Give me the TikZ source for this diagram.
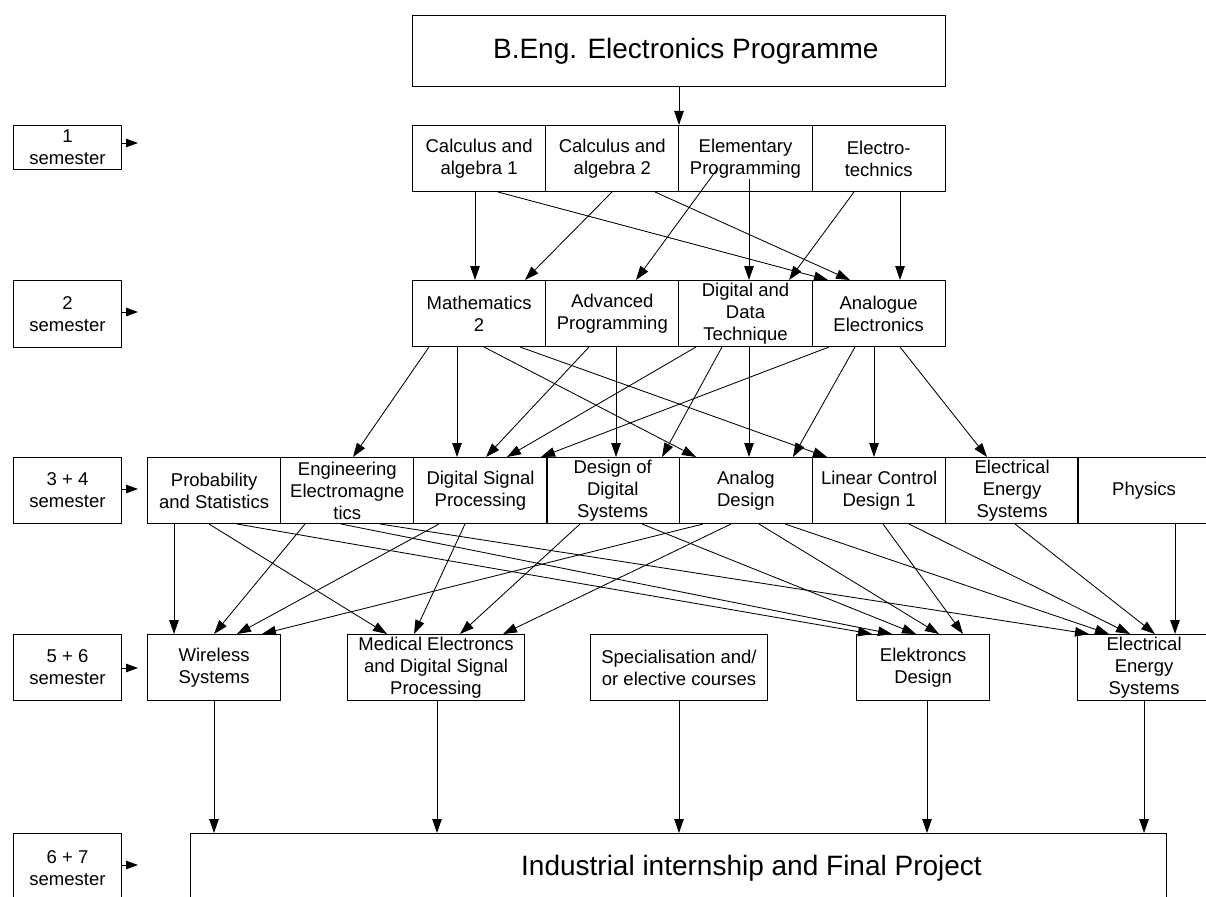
\documentclass[tikz,border=0pt]{standalone}
\usepackage{fontspec}
\setmainfont{Liberation Sans}
\usetikzlibrary{arrows.meta,calc}
\newcommand{\rowfont}{\fontsize{18.5}{22}\selectfont}
\newcommand{\lk}[4]{\draw[conn] let \p1=(#1.south), \p2=(#3.north) in (#2pt,\y1) -- (#4pt,\y2);}
\begin{document}
\begin{tikzpicture}[x=1pt,y=-1pt,
  box/.style={draw, line width=1pt, inner sep=0pt, anchor=north west, align=center, font=\rowfont, minimum height=66pt},
  w1/.style={minimum width=133.2pt},
  w2/.style={minimum width=177pt},
  sem/.style={draw, line width=1pt, inner sep=0pt, anchor=north west, align=center, font=\rowfont, minimum width=108pt},
  conn/.style={line width=0.85pt, -{Triangle[length=14pt,width=9.5pt]}},
  semarrow/.style={line width=0.85pt, -{Triangle[length=12pt,width=8.5pt]}}]
\useasboundingbox (0,0) rectangle (1206,896);
\clip (0,0) rectangle (1206,896);

% title
\node[box, minimum width=532.6pt, minimum height=71pt, font=\fontsize{28}{32}\selectfont] (top) at (412,15) {\hspace*{14pt}B.Eng. Electronics Programme};

% semester boxes
\node[sem, minimum height=44pt] (s1) at (13,125) {1\\semester};
\node[sem, minimum height=67pt] (s2) at (13,280) {2\\semester};
\node[sem, minimum height=66pt] (s34) at (13,457) {3 + 4\\semester};
\node[sem, minimum height=66pt] (s56) at (13,634) {5 + 6\\semester};
\node[sem, minimum height=70pt] (s67) at (13,833) {6 + 7\\semester};
\coordinate (e1) at (138,143);
\coordinate (e2) at (138,312);
\coordinate (e34) at (138,489);
\coordinate (e56) at (138,668);
\coordinate (e67) at (138,865);
\draw[semarrow] (s1.east |- e1) -- (e1);
\draw[semarrow] (s2.east |- e2) -- (e2);
\draw[semarrow] (s34.east |- e34) -- (e34);
\draw[semarrow] (s56.east |- e56) -- (e56);
\draw[semarrow] (s67.east |- e67) -- (e67);

% row 1
\node[box,w1] (calc1) at (412,125) {Calculus and\\algebra 1};
\node[box,w1] (calc2) at (545.2,125) {Calculus and\\algebra 2};
\node[box,w1] (elem) at (678.4,125) {Elementary\\Programming};
\node[box,w1] (electro) at (811.6,125) {Electro-\\technics};

% row 2
\node[box,w1] (math) at (412,280) {Mathematics\\2};
\node[box,w1] (adv) at (545.2,280) {Advanced\\Programming};
\node[box,w1] (ddt) at (678.4,280) {Digital and\\Data\\Technique};
\node[box,w1] (ana) at (811.6,280) {Analogue\\Electronics};

% row 3
\node[box,w1] (prob) at (147,457) {Probability\\and Statistics};
\node[box,w1] (eng) at (280.2,457) {Engineering\\Electromagne\\tics};
\node[box,w1] (dsp) at (413.4,457) {Digital Signal\\Processing};
\node[box,w1] (dds) at (545.6,457) {Design of\\Digital\\Systems};
\node[box,w1] (adesign) at (678.8,457) {Analog\\Design};
\node[box,w1] (lin) at (812,457) {Linear Control\\Design 1};
\node[box,w1] (eles) at (945,457) {Electrical\\Energy\\Systems};
\node[box,w1] (phys) at (1077,457) {Physics};

% row 4
\node[box,w1] (wire) at (147,634) {Wireless\\Systems};
\node[box,w2] (med) at (347,634) {Medical Electroncs\\and Digital Signal\\Processing};
\node[box,w2] (spec) at (590,634) {Specialisation and/\\or elective courses};
\node[box,w1] (elek) at (856,634) {Elektroncs\\Design};
\node[box,w1] (ees) at (1077,634) {Electrical\\Energy\\Systems};

% final
\node[box, minimum width=976pt, minimum height=70pt, font=\fontsize{28}{32}\selectfont] (final) at (190,833) {\hspace*{146pt}Industrial internship and Final Project};

% top -> row 1
\lk{top}{679}{elem}{679}

% row 1 -> row 2
\lk{calc1}{475}{math}{475}
\lk{calc1}{498}{ana}{828}
\lk{calc2}{612}{math}{525}
\lk{calc2}{655}{ana}{850}
\draw[conn] let \p1=(elem.south), \p2=(adv.north) in (718pt,\y1+24pt) -- (636pt,\y2);
\draw[conn] let \p1=(elem.south), \p2=(ddt.north) in (749pt,\y1+13pt) -- (749pt,\y2);
\lk{electro}{854}{ddt}{789}
\lk{electro}{900}{ana}{900}

% row 2 -> row 3
\lk{math}{429}{eng}{353}
\lk{math}{457}{dsp}{457}
\lk{math}{484}{adesign}{696}
\lk{math}{520}{lin}{827}
\lk{adv}{589}{dsp}{486}
\lk{adv}{616}{dds}{616}
\lk{ddt}{696}{dsp}{507}
\lk{ddt}{722}{dds}{662}
\lk{ddt}{749}{adesign}{749}
\lk{ana}{829}{dsp}{541}
\lk{ana}{855}{adesign}{793}
\lk{ana}{874}{lin}{874}
\lk{ana}{900}{eles}{987}

% row 3 -> row 4
\lk{prob}{174}{wire}{174}
\lk{prob}{209}{med}{387}
\lk{prob}{237}{elek}{872}
\lk{eng}{305}{wire}{214}
\lk{eng}{341}{elek}{892}
\lk{eng}{380}{ees}{1089}
\lk{dsp}{439}{wire}{237}
\lk{dsp}{465}{med}{414}
\lk{dds}{580}{med}{460}
\lk{dds}{642}{elek}{916}
\lk{adesign}{703}{wire}{262}
\lk{adesign}{731}{med}{503}
\lk{adesign}{759}{elek}{939}
\lk{adesign}{785}{ees}{1109}
\lk{lin}{883}{elek}{963}
\lk{lin}{909}{ees}{1130}
\lk{eles}{1015}{ees}{1155}
\lk{phys}{1175}{ees}{1175}

% row 4 -> final
\lk{wire}{214}{final}{214}
\lk{med}{437}{final}{437}
\lk{spec}{679}{final}{679}
\lk{elek}{927}{final}{927}
\lk{ees}{1144}{final}{1144}
\end{tikzpicture}
\end{document}
